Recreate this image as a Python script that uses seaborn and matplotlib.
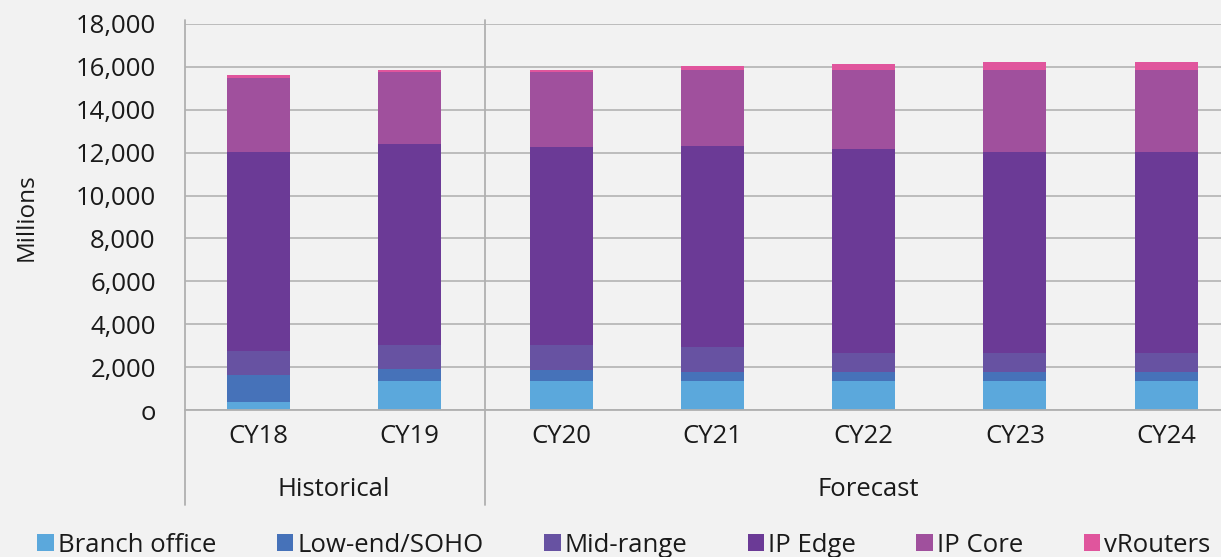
import numpy as np
import pandas as pd
import matplotlib
matplotlib.use("Agg")
import matplotlib.pyplot as plt
import seaborn as sns
from matplotlib.patches import Patch
from matplotlib.ticker import FuncFormatter

# ---- data (millions) ----
years = ["CY18", "CY19", "CY20", "CY21", "CY22", "CY23", "CY24"]
branch_office = [390, 1360, 1360, 1360, 1360, 1360, 1360]
low_end_soho = [1220, 530, 520, 410, 410, 410, 410]
mid_range = [1150, 1150, 1160, 1150, 900, 900, 900]
ip_edge = [9290, 9360, 9240, 9370, 9490, 9360, 9360]
ip_core = [3410, 3340, 3470, 3560, 3690, 3820, 3820]
vrouters = [140, 120, 120, 170, 270, 400, 400]
series_names = ["Branch office", "Low-end/SOHO", "Mid-range", "IP Edge", "IP Core", "vRouters"]
groups = ["Historical", "Forecast"]

colors = ["#5BA8DC", "#4672B9", "#6752A2", "#6B3A96", "#A0509D", "#E0559D"]
bg = "#F2F2F2"
txt = "#1a1a1a"

sns.set_theme(style="white")
plt.rcParams["font.family"] = ["Open Sans", "DejaVu Sans"]

fig = plt.figure(figsize=(12.21, 5.57), dpi=100, facecolor=bg)
ax = fig.add_axes([185 / 1221, 1 - 410 / 557, 1 - 185 / 1221, 386 / 557])
ax.set_facecolor(bg)

series = [branch_office, low_end_soho, mid_range, ip_edge, ip_core, vrouters]
cum = np.cumsum(np.array(series), axis=0)

# draw stacked bars by painting cumulative totals from the top down
for i in range(len(series) - 1, -1, -1):
    df = pd.DataFrame({"year": years, "value": cum[i]})
    sns.barplot(data=df, x="year", y="value", order=years, color=colors[i],
                saturation=1, width=0.416, errorbar=None, ax=ax,
                edgecolor="none", linewidth=0, zorder=3)

ax.set_ylim(0, 18000)
ax.set_xlim(-0.486, 6.362)
ax.set_yticks(np.arange(0, 18001, 2000))
ax.yaxis.set_major_formatter(FuncFormatter(lambda v, p: "o" if v == 0 else f"{int(v):,}"))
ax.grid(axis="y", color="#B8B8B8", linewidth=1.3, zorder=0)
ax.grid(axis="x", visible=False)
for s in ["top", "right", "left"]:
    ax.spines[s].set_visible(False)
ax.spines["bottom"].set_color("#B0B0B0")
ax.spines["bottom"].set_linewidth(1.3)
ax.spines["bottom"].set_zorder(4)

ax.tick_params(axis="y", length=0, pad=21, labelsize=18.5, labelcolor=txt)
ax.tick_params(axis="x", length=0, pad=10, labelsize=18.5, labelcolor=txt)
ax.set_xlabel("")
ax.set_ylabel("Millions", fontsize=17.5, color=txt)
ax.yaxis.set_label_coords(-(185 - 39) / 1036, 0.5)

# separators (axis line and group separator)
ymin = (410 - 505) / 386
ymax = (410 - 20) / 386
for xv in [-0.486, 1.5]:
    ax.axvline(xv, ymin=ymin, ymax=ymax, color="#B0B0B0", linewidth=1.3, clip_on=False, zorder=5)

# group labels
gy = -(489 - 410) / 386
ax.text(0.5, gy, groups[0], transform=ax.get_xaxis_transform(), ha="center", va="center",
        fontsize=18.5, color=txt)
ax.text(4.03, gy, groups[1], transform=ax.get_xaxis_transform(), ha="center", va="center",
        fontsize=18.5, color=txt)

handles = [Patch(facecolor=c, edgecolor="none") for c in colors]
fig.legend(handles, series_names, loc="center", bbox_to_anchor=(0.511, 1 - 545 / 557),
           ncol=6, frameon=False, fontsize=18.5, handlelength=0.65, handleheight=0.65,
           handletextpad=0.15, columnspacing=2.35, labelcolor=txt, borderpad=0)

fig.savefig("out.png", dpi=100, facecolor=bg)
